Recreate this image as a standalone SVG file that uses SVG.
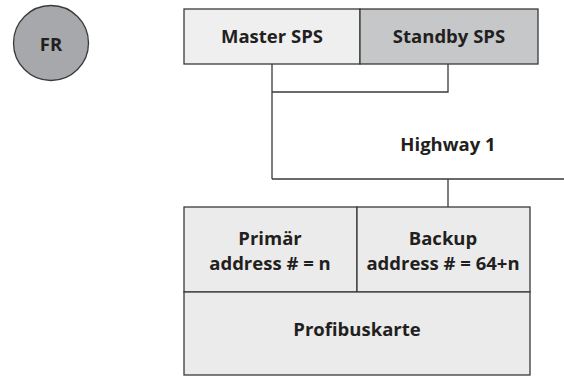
<svg xmlns="http://www.w3.org/2000/svg" width="564" height="376" viewBox="0 0 564 376">
<style>
text{font-family:"Open Sans","Liberation Sans",sans-serif;font-weight:bold;font-size:18.5px;fill:#231f20;text-anchor:middle}
.box{stroke:#3a3a3a;stroke-width:1.3}
.line{stroke:#3a3a3a;stroke-width:1.3;fill:none}
</style>
<rect width="564" height="376" fill="#fff"/>
<g id="fr">
<circle cx="51" cy="43" r="37.5" fill="#a7a8ab" stroke="#3a3a3a" stroke-width="1.3"/>
<text x="51" y="51">FR</text>
</g>
<g id="connectors">
<path class="line" d="M272 64V179M448 64V92H272M272 179H564M448 179V207"/>
</g>
<g id="master">
<rect class="box" x="184" y="9" width="176" height="55" fill="#efefef"/>
<text x="272" y="43">Master SPS</text>
</g>
<g id="standby">
<rect class="box" x="360" y="9" width="178" height="55" fill="#c6c7c9"/>
<text x="449" y="43">Standby SPS</text>
</g>
<g id="highway">
<text x="448" y="151">Highway 1</text>
</g>
<g id="primar">
<rect class="box" x="184" y="207" width="173" height="85" fill="#ebebeb"/>
<text x="270" y="245">Primär</text>
<text x="270" y="270">address # = n</text>
</g>
<g id="backup">
<rect class="box" x="357" y="207" width="173" height="85" fill="#ebebeb"/>
<text x="443" y="245">Backup</text>
<text x="443" y="270">address # = 64+n</text>
</g>
<g id="profibus">
<rect class="box" x="184" y="292" width="346" height="83" fill="#ebebeb"/>
<text x="357" y="336">Profibuskarte</text>
</g>
</svg>
